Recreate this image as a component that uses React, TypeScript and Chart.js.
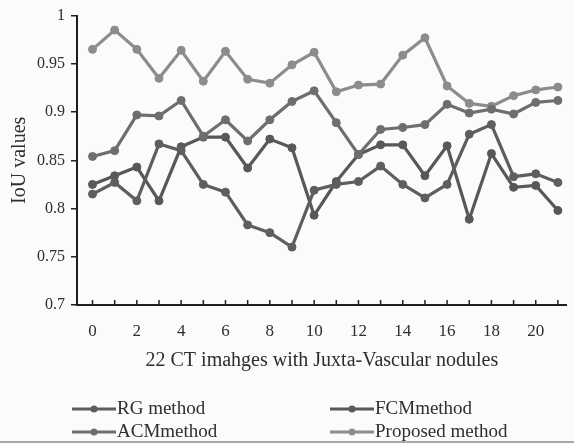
import { useEffect, useRef } from 'react';
import { Chart, registerables } from 'chart.js';

Chart.register(...registerables);

const imageIndex = [0, 1, 2, 3, 4, 5, 6, 7, 8, 9, 10, 11, 12, 13, 14, 15, 16, 17, 18, 19, 20, 21];
const rgMethod = [0.815, 0.827, 0.808, 0.867, 0.860, 0.825, 0.817, 0.783, 0.775, 0.760, 0.819, 0.825, 0.828, 0.844, 0.825, 0.811, 0.825, 0.877, 0.887, 0.833, 0.836, 0.827];
const acmMethod = [0.854, 0.860, 0.897, 0.896, 0.912, 0.875, 0.892, 0.870, 0.892, 0.911, 0.922, 0.889, 0.856, 0.882, 0.884, 0.887, 0.908, 0.899, 0.903, 0.898, 0.910, 0.912];
const fcmMethod = [0.825, 0.834, 0.843, 0.808, 0.864, 0.874, 0.874, 0.842, 0.872, 0.863, 0.793, 0.828, 0.856, 0.866, 0.866, 0.834, 0.865, 0.789, 0.857, 0.822, 0.824, 0.798];
const proposedMethod = [0.965, 0.985, 0.965, 0.935, 0.964, 0.932, 0.963, 0.934, 0.930, 0.949, 0.962, 0.921, 0.928, 0.929, 0.959, 0.977, 0.927, 0.909, 0.906, 0.917, 0.923, 0.926];
const yTickValues = [0.7, 0.75, 0.8, 0.85, 0.9, 0.95, 1];
const xTickValues = imageIndex;

const seriesNames = ['RG method', 'ACMmethod', 'FCMmethod', 'Proposed method'];
const seriesColors = ['#5e5e5e', '#6e6e6e', '#585858', '#8c8c8c'];

const FONT = "'Liberation Serif', 'DejaVu Serif', serif";
const TEXT = '#2e2e2e';
const AXIS = '#1e1e1e';

const decorPlugin = {
  id: 'decor',
  beforeDraw(chart: any) {
    const { ctx, width, height } = chart;
    ctx.save();
    ctx.fillStyle = '#fbfbfa';
    ctx.fillRect(0, 0, width, height);
    ctx.restore();
  },
  afterDraw(chart: any) {
    const { ctx } = chart;
    const xs = chart.scales.x;
    const bottom = chart.chartArea.bottom;
    ctx.save();
    // inward x tick marks
    ctx.strokeStyle = AXIS;
    ctx.lineWidth = 1.5;
    xTickValues.forEach((v) => {
      const px = xs.getPixelForValue(v);
      ctx.beginPath();
      ctx.moveTo(px, bottom);
      ctx.lineTo(px, bottom - 5);
      ctx.stroke();
    });
    // legend (two columns)
    const slots = [
      { col: 0, row: 0 },
      { col: 0, row: 1 },
      { col: 1, row: 0 },
      { col: 1, row: 1 },
    ];
    const colX = [72, 330];
    const rowY = [409, 432];
    ctx.font = `19px ${FONT}`;
    ctx.textBaseline = 'middle';
    ctx.textAlign = 'left';
    chart.data.datasets.forEach((ds: any, i: number) => {
      const s = slots[i];
      const x0 = colX[s.col];
      const y0 = rowY[s.row];
      const len = 44;
      ctx.strokeStyle = ds.borderColor;
      ctx.lineWidth = 3;
      ctx.beginPath();
      ctx.moveTo(x0, y0);
      ctx.lineTo(x0 + len, y0);
      ctx.stroke();
      ctx.fillStyle = ds.borderColor;
      ctx.beginPath();
      ctx.arc(x0 + len / 2, y0, 3.5, 0, Math.PI * 2);
      ctx.fill();
      ctx.fillStyle = TEXT;
      ctx.fillText(ds.label, x0 + len + 1, y0);
    });
    // scan page rule
    ctx.strokeStyle = '#a8a8a8';
    ctx.lineWidth = 2;
    ctx.beginPath();
    ctx.moveTo(0, 442);
    ctx.lineTo(chart.width, 442);
    ctx.stroke();
    ctx.restore();
  },
};

export default function App() {
  const ref = useRef<HTMLCanvasElement | null>(null);

  useEffect(() => {
    if (!ref.current) return;
    const allSeries = [rgMethod, acmMethod, fcmMethod, proposedMethod];
    const chart = new Chart(ref.current, {
      type: 'line',
      data: {
        datasets: allSeries.map((vals, i) => ({
          label: seriesNames[i],
          data: vals.map((v, k) => ({ x: imageIndex[k], y: v })),
          borderColor: seriesColors[i],
          backgroundColor: seriesColors[i],
          pointBackgroundColor: seriesColors[i],
          pointBorderColor: seriesColors[i],
          borderWidth: 3.2,
          pointRadius: 4,
          pointBorderWidth: 1,
          tension: 0,
        })),
      },
      options: {
        responsive: false,
        animation: false,
        devicePixelRatio: 1,
        layout: { padding: { top: 15, right: 0, left: 0, bottom: 72 } },
        plugins: {
          legend: { display: false },
          tooltip: { enabled: false },
        },
        scales: {
          x: {
            type: 'linear',
            min: -0.7,
            max: 21.4,
            afterBuildTicks: (scale: any) => {
              scale.ticks = xTickValues.map((v) => ({ value: v }));
            },
            afterFit: (scale: any) => {
              scale.height = 68;
            },
            grid: { display: false, drawTicks: false },
            border: { display: true, color: AXIS, width: 2 },
            ticks: {
              autoSkip: false,
              maxRotation: 0,
              padding: 16,
              color: TEXT,
              font: { family: FONT, size: 17 },
              callback: (v: any) => (Number(v) % 2 === 0 ? String(v) : ''),
            },
            title: {
              display: true,
              text: '22 CT imahges with Juxta-Vascular nodules',
              color: TEXT,
              font: { family: FONT, size: 20 },
              padding: 0,
            },
          },
          y: {
            min: 0.7,
            max: 1,
            afterBuildTicks: (scale: any) => {
              scale.ticks = yTickValues.map((v) => ({ value: v }));
            },
            afterFit: (scale: any) => {
              scale.width = 77;
            },
            grid: {
              display: true,
              drawOnChartArea: false,
              drawTicks: true,
              tickLength: 6,
              color: AXIS,
              lineWidth: 1.5,
            },
            border: { display: true, color: AXIS, width: 2 },
            ticks: {
              padding: 6,
              color: TEXT,
              font: { family: FONT, size: 16 },
              callback: (v: any) => String(v),
            },
            title: {
              display: true,
              text: 'IoU values',
              color: TEXT,
              font: { family: FONT, size: 20 },
              padding: { top: 8, bottom: 0 },
            },
          },
        },
      },
      plugins: [decorPlugin],
    });
    return () => chart.destroy();
  }, []);

  return (
    <div style={{ position: 'absolute', left: 0, top: 0, width: 574, height: 445 }}>
      <canvas ref={ref} width={574} height={445} style={{ display: 'block', width: 574, height: 445 }} />
    </div>
  );
}
